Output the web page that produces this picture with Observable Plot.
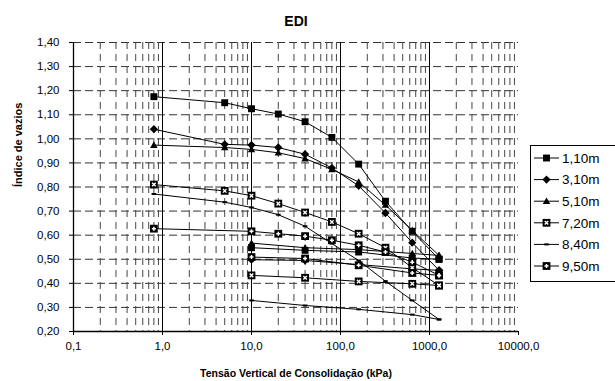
<!DOCTYPE html>
<html><head><meta charset="utf-8">
<script src="https://cdn.jsdelivr.net/npm/d3@7"></script>
<script src="https://cdn.jsdelivr.net/npm/@observablehq/plot@0.6"></script>
<style>
body{margin:0;background:#fff;}
#wrap{position:relative;width:615px;height:381px;overflow:hidden;font-family:"Liberation Sans",Arial,sans-serif;}
#legend{position:absolute;left:0;top:0;pointer-events:none;}
</style></head><body><div id="wrap"></div>
<script>
// ---- data ----
const chartTitle = "EDI";
const xLabel = "Tensão Vertical de Consolidação (kPa)";
const yLabel = "Índice de vazios";
const xTicks = [0.1, 1, 10, 100, 1000, 10000];
const xTickLabels = ["0,1", "1,0", "10,0", "100,0", "1000,0", "10000,0"];
const yTicks = [0.2, 0.3, 0.4, 0.5, 0.6, 0.7, 0.8, 0.9, 1.0, 1.1, 1.2, 1.3, 1.4];
const yTickLabels = ["0,20","0,30","0,40","0,50","0,60","0,70","0,80","0,90","1,00","1,10","1,20","1,30","1,40"];
const seriesNames = ["1,10m", "3,10m", "5,10m", "7,20m", "8,40m", "9,50m"];
const loadPressures = [0.8, 5, 10, 20, 40, 80, 160, 320, 640, 1280];
const unloadPressures = [1280, 640, 160, 40, 10];
const load_110 = [1.175, 1.150, 1.125, 1.103, 1.071, 1.006, 0.895, 0.741, 0.616, 0.500];
const unload_110 = [0.500, 0.505, 0.530, 0.537, 0.548];
const load_310 = [1.040, 0.977, 0.974, 0.964, 0.936, 0.879, 0.805, 0.692, 0.569, 0.454];
const unload_310 = [0.454, 0.460, 0.478, 0.495, 0.498];
const load_510 = [0.974, 0.964, 0.956, 0.942, 0.918, 0.873, 0.821, 0.725, 0.620, 0.516];
const unload_510 = [0.516, 0.524, 0.540, 0.548, 0.567];
const load_720 = [0.810, 0.784, 0.764, 0.731, 0.694, 0.655, 0.606, 0.548, 0.465, 0.391];
const unload_720 = [0.391, 0.398, 0.408, 0.423, 0.433];
const load_840 = [0.771, 0.737, 0.715, 0.685, 0.637, 0.565, 0.495, 0.409, 0.329, 0.250];
const unload_840 = [0.250, 0.270, 0.292, 0.308, 0.329];
const load_950 = [0.627, null, 0.616, 0.606, 0.596, 0.579, 0.558, 0.530, 0.488, 0.433];
const unload_950 = [0.433, 0.443, 0.475, 0.503, 0.509];

// ---- build table ----
const loads = [load_110, load_310, load_510, load_720, load_840, load_950];
const unloads = [unload_110, unload_310, unload_510, unload_720, unload_840, unload_950];
const rows = [];
seriesNames.forEach((s, i) => {
  loadPressures.forEach((p, j) => { if (loads[i][j] != null) rows.push({series: s, branch: "load", p, e: loads[i][j]}); });
  unloadPressures.forEach((p, j) => { if (unloads[i][j] != null) rows.push({series: s, branch: "unload", p, e: unloads[i][j]}); });
});
const xFmt = new Map(xTicks.map((t, i) => [t, xTickLabels[i]]));
const yFmt = d => yTickLabels[yTicks.findIndex(t => Math.abs(t - d) < 1e-9)];

// ---- symbols ----
const symSquare = {draw(c, size){ const a = Math.sqrt(size) / 2; c.rect(-a, -a, 2*a, 2*a); }};
const symDiamond = {draw(c, size){ const a = Math.sqrt(size / 2); c.moveTo(0,-a); c.lineTo(a,0); c.lineTo(0,a); c.lineTo(-a,0); c.closePath(); }};
const symTriangle = {draw(c, size){ const a = Math.sqrt(size) * 0.62; c.moveTo(0,-a); c.lineTo(a,a*0.75); c.lineTo(-a,a*0.75); c.closePath(); }};
const symDash = {draw(c, size){ const a = Math.sqrt(size) / 2; c.moveTo(-a,0); c.lineTo(a,0); }};
const symTimes = {draw(c, size){ const a = Math.sqrt(size) / 2; c.moveTo(-a,-a); c.lineTo(a,a); c.moveTo(a,-a); c.lineTo(-a,a); }};
const symPlus = {draw(c, size){ const a = Math.sqrt(size) / 2; c.moveTo(-a,0); c.lineTo(a,0); c.moveTo(0,-a); c.lineTo(0,a); }};

const markerSpec = {
  "1,10m": [{symbol: symSquare, r: 3.9, fill: "#000"}],
  "3,10m": [{symbol: symDiamond, r: 3.3, fill: "#000"}],
  "5,10m": [{symbol: symTriangle, r: 3.4, fill: "#000"}],
  "7,20m": [{symbol: symSquare, r: 4.4, fill: "#000"}, {symbol: symTimes, r: 2.0, fill: "none", stroke: "#fff", strokeWidth: 1.4}],
  "8,40m": [{symbol: symDash, r: 2.6, fill: "none", stroke: "#000", strokeWidth: 2}],
  "9,50m": [{symbol: symSquare, r: 4.4, fill: "#000"}, {symbol: symPlus, r: 2.3, fill: "none", stroke: "#fff", strokeWidth: 1.5}]
};

const minorX = [];
for (let d = -1; d <= 3; d++) for (let k = 2; k <= 9; k++) minorX.push(k * Math.pow(10, d));
const font = "Liberation Sans, Arial, sans-serif";

const dotMarks = [];
seriesNames.forEach(s => {
  markerSpec[s].forEach(m => {
    dotMarks.push(Plot.dot(rows.filter(d => d.series === s), {x: "p", y: "e", symbol: () => m.symbol, r: m.r, fill: m.fill, stroke: m.stroke || "none", strokeWidth: m.strokeWidth || 1}));
  });
});

const plot = Plot.plot({
  width: 615, height: 381,
  marginLeft: 73, marginRight: 97, marginTop: 42, marginBottom: 50,
  style: {fontFamily: font, fontSize: "11.5px", color: "#000", background: "#fff", overflow: "visible"},
  x: {type: "log", domain: [0.1, 10000], ticks: xTicks, tickFormat: d => xFmt.get(d), tickSize: 4, tickPadding: 6, label: null},
  y: {domain: [0.2, 1.4], ticks: yTicks, tickFormat: yFmt, tickSize: 4, tickPadding: 10, label: null},
  symbol: {type: "identity"},
  marks: [
    Plot.ruleY(yTicks.slice(1), {stroke: "#333", strokeDasharray: "8,4", strokeWidth: 1}),
    Plot.ruleX(minorX, {stroke: "#444", strokeDasharray: "7,5", strokeWidth: 1}),
    Plot.ruleX([1, 10, 100, 1000], {stroke: "#000", strokeWidth: 1}),
    Plot.ruleX([0.1], {stroke: "#000", strokeWidth: 1.3}),
    Plot.ruleY([0.2], {stroke: "#000", strokeWidth: 1.3}),
    Plot.line(rows, {x: "p", y: "e", z: d => d.series + d.branch, stroke: "#000", strokeWidth: 1, curve: "linear"}),
    ...dotMarks,
    Plot.text([chartTitle], {frameAnchor: "top", dy: -26, fontWeight: "bold", fontSize: 14}),
    Plot.text([xLabel], {frameAnchor: "bottom", dy: 45, fontWeight: "bold", fontSize: 10.5}),
    Plot.text([yLabel], {frameAnchor: "left", dx: -55, rotate: -90, fontWeight: "bold", fontSize: 11})
  ]
});
document.getElementById("wrap").appendChild(plot);

// ---- legend ----
const lg = d3.select("#wrap").append("svg").attr("id", "legend").attr("width", 615).attr("height", 381);
lg.append("rect").attr("x", 530.5).attr("y", 145.5).attr("width", 100).attr("height", 136).attr("fill", "#fff").attr("stroke", "#000");
seriesNames.forEach((s, i) => {
  const cy = 158 + i * 21.6;
  const g = lg.append("g");
  g.append("line").attr("x1", 534).attr("x2", 559).attr("y1", cy).attr("y2", cy).attr("stroke", "#000");
  markerSpec[s].forEach(m => {
    const size = Math.PI * m.r * m.r;
    const path = d3.path(); m.symbol.draw(path, size);
    g.append("path").attr("d", path.toString()).attr("transform", `translate(546.5,${cy})`)
      .attr("fill", m.fill).attr("stroke", m.stroke || "none").attr("stroke-width", m.strokeWidth || 1);
  });
  g.append("text").attr("x", 562).attr("y", cy).attr("dy", "0.36em").attr("font-size", 13.5).attr("font-family", font).text(s);
});
</script>
</body></html>
